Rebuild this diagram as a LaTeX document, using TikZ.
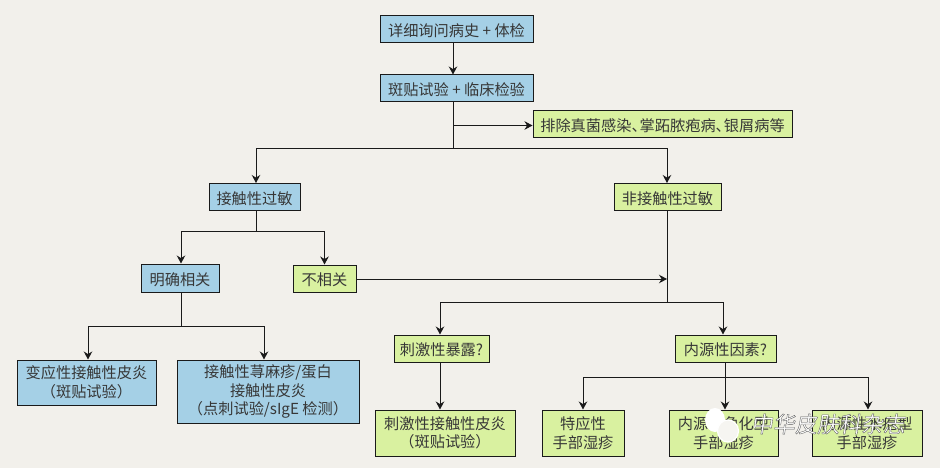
\documentclass[tikz,border=0pt]{standalone}
\usepackage{fontspec}
\setmainfont{Noto Sans CJK SC}
\newfontfamily\markfont[FakeSlant=0.15]{Noto Sans CJK SC}
\usetikzlibrary{arrows.meta}
\definecolor{paper}{RGB}{242,240,235}
\definecolor{bluefill}{RGB}{165,208,230}
\definecolor{greenfill}{RGB}{217,241,160}
\definecolor{inkline}{RGB}{26,26,26}
\definecolor{inktext}{RGB}{55,55,55}
\newcommand{\outlined}[1]{\special{pdf:code 2 Tr 0.35 w 0.35 0.35 0.35 RG}#1\special{pdf:code 0 Tr}}
\tikzset{
  box/.style n args={3}{draw=inkline, line width=1pt, fill=#1, text=inktext,
    minimum width=#2 pt, minimum height=#3 pt, inner sep=0pt, align=center,
    font=\fontsize{15.2}{18.5}\selectfont,
    execute at begin node={\rule{0pt}{16pt}}},
  link/.style={draw=inkline, line width=1pt},
  arrow/.style={link, -{Stealth[length=8pt,width=8.5pt]}},
}
\begin{document}
\begin{tikzpicture}[x=1pt,y=-1pt]
      \fill[paper] (0,0) rectangle (940,468);
      \useasboundingbox (0,0) rectangle (940,468);
      % top of the chart
      \node[box={bluefill}{153}{27}] (history) at (456.5,29.5) {详细询问病史 + 体检};
      \node[box={bluefill}{153}{27}] (patch) at (456.5,88.5) {斑贴试验 + 临床检验};
      \node[box={greenfill}{259}{27}] (exclude) at (662.5,124.5) {排除真菌感染、\kern-7pt掌跖脓疱病、\kern-7pt银屑病等};
      % second level
      \node[box={bluefill}{91}{27}] (allergy) at (254.5,197) {接触性过敏};
      \node[box={greenfill}{107}{27}] (nonallergy) at (667.5,197) {非接触性过敏};
      \node[box={bluefill}{78}{28}] (related) at (180,278) {明确相关};
      \node[box={greenfill}{63}{27}] (unrelated) at (324.5,278.5) {不相关};
      \node[box={greenfill}{95}{27}] (irritant) at (441.5,348.5) {刺激性暴露?};
      \node[box={greenfill}{101}{27}] (endogenous) at (725.5,348.5) {内源性因素?};
      % bottom row
      \node[box={bluefill}{139}{45}] (acd) at (86.5,382.5) {变应性接触性皮炎\\（斑贴试验）};
      \node[box={bluefill}{182}{63}] (urticaria) at (268,391.5) {接触性荨麻疹/蛋白\\接触性皮炎\\（点刺试验/sIgE 检测）};
      \node[box={greenfill}{140}{46}] (icd) at (445,433) {刺激性接触性皮炎\\（斑贴试验）};
      \node[box={greenfill}{82}{46}] (atopic) at (583,433) {特应性\\手部湿疹};
      \node[box={greenfill}{109}{46}] (keratotic) at (723.5,433) {内源性角化型\\手部湿疹};
      \node[box={greenfill}{110}{46}] (vesicular) at (867,433) {内源性水疱型\\手部湿疹};
      % junctions
      \coordinate (main) at (453,125.5);
      \coordinate (mainfork) at (453,149);
      \coordinate (allergyfork) at (256,231);
      \coordinate (relatedfork) at (181,326);
      \coordinate (merge) at (667,279);
      \coordinate (nonfork) at (667,302);
      \coordinate (endofork) at (725,377);
      % connectors
      \draw[arrow] (history.south -| main) -- (patch.north -| main);
      \draw[link] (patch.south -| main) -- (mainfork);
      \draw[arrow] (main) -- (exclude.west |- main);
      \draw[arrow] (mainfork) -| (allergyfork |- allergy.north);
      \draw[arrow] (mainfork) -| (nonallergy.north -| merge);
      \draw[link] (allergy.south -| allergyfork) -- (allergyfork);
      \draw[arrow] (allergyfork) -| (related.north -| relatedfork);
      \draw[arrow] (allergyfork) -| (unrelated.north);
      \draw[link] (related.south -| relatedfork) -- (relatedfork);
      \draw[arrow] (relatedfork) -| (acd.north -| 88,0);
      \draw[arrow] (relatedfork) -| (urticaria.north -| 264,0);
      \draw[arrow] (unrelated.east |- merge) -- (merge);
      \draw[link] (nonallergy.south -| merge) -- (nonfork);
      \draw[arrow] (nonfork) -| (irritant.north -| 440,0);
      \draw[arrow] (nonfork) -| (endogenous.north -| 723,0);
      \draw[arrow] (irritant.south -| 440,0) -- (icd.north -| 440,0);
      \draw[link] (endogenous.south -| endofork) -- (endofork);
      \draw[arrow] (endofork) -| (atopic.north);
      \draw[arrow] (endofork) -- (keratotic.north -| endofork);
      \draw[arrow] (endofork) -| (vesicular.north -| 868,0);
      % watermark
      \fill[white] (715,420) ellipse [x radius=10, y radius=12];
      \fill[paper!70!white] (728,431) ellipse [x radius=10.5, y radius=11];
      \draw[white, line width=1.2pt] (728,431) ellipse [x radius=10.5, y radius=11];
      \node[text=white, font=\markfont\fontsize{22}{22}\selectfont] (mark) at (828,424) {\outlined{中华皮肤科杂志}};
\end{tikzpicture}
\end{document}
